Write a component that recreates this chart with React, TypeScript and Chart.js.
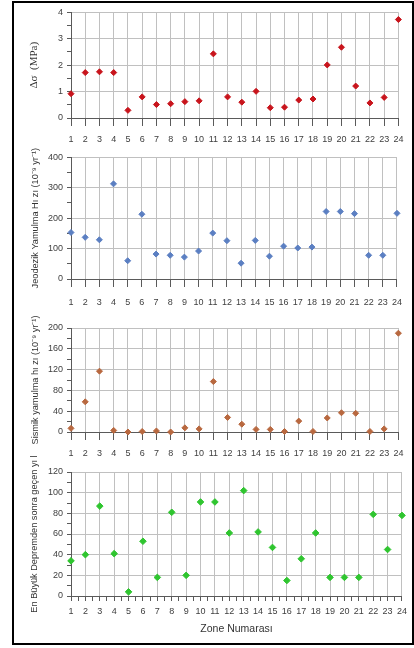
import React, { useEffect, useRef } from 'react';
import { Chart, registerables } from 'chart.js';
Chart.register(...registerables);

// ---- data ----
const zones = [1, 2, 3, 4, 5, 6, 7, 8, 9, 10, 11, 12, 13, 14, 15, 16, 17, 18, 19, 20, 21, 22, 23, 24];
const stressDropMPa = [0.92, 1.72, 1.75, 1.72, 0.29, 0.8, 0.51, 0.54, 0.62, 0.65, 2.43, 0.8, 0.6, 1.01, 0.39, 0.41, 0.68, 0.72, 2.01, 2.68, 1.21, 0.57, 0.78, 3.73];
const geodeticStrainRate = [153, 137, 129, 313, 60, 213, 82, 78, 72, 92, 151, 126, 52, 127, 75, 108, 102, 105, 222, 222, 215, 78, 78, 216];
const seismicStrainRate = [7, 58, 117, 3, 0, 1, 2, 0, 8, 6, 97, 28, 15, 5, 5, 1, 21, 1, 27, 37, 36, 1, 6, 190];
const yearsSinceLargest = [34, 40, 87, 41, 4, 53, 18, 81, 20, 91, 91, 61, 102, 62, 47, 15, 36, 61, 18, 18, 18, 79, 45, 78];

const stressTicks = [0, 1, 2, 3, 4];
const geodeticTicks = [0, 100, 200, 300, 400];
const seismicTicks = [0, 40, 80, 120, 160, 200];
const yearsTicks = [0, 20, 40, 60, 80, 100, 120];

const xAxisTitle = 'Zone Numarası';

const SANS = "'Liberation Sans', Arial, Helvetica, sans-serif";
const SERIF = "'Liberation Serif', 'Times New Roman', serif";
const GRID = '#c0c0c0';
const AXIS = '#5a5a5a';
const TEXT = '#404040';

type Spec = {
  values: number[];
  ticks: number[];
  color: string;
  title: string;
  titleFamily: string;
  titleSize: number;
  titlePad: number;
  top: number;
  height: number;
  padTop: number;
  xHeight: number;
  xTick: number;
  xPad: number;
  xMinor: boolean;
  xTitle?: string;
  radius: number;
};

const near = (v: number, step: number) => Math.abs(v / step - Math.round(v / step)) < 1e-6;

function Panel({ spec }: { spec: Spec }) {
  const ref = useRef<HTMLCanvasElement>(null);
  useEffect(() => {
    const canvas = ref.current!;
    const yMax = spec.ticks[spec.ticks.length - 1];
    const yMajor = spec.ticks[1] - spec.ticks[0];
    const chart = new Chart(canvas, {
      type: 'scatter',
      data: {
        datasets: [
          {
            data: zones.map((z, i) => ({ x: z, y: spec.values[i] })),
            pointStyle: 'rectRot',
            pointRadius: spec.radius,
            backgroundColor: spec.color,
            borderColor: spec.color,
            borderWidth: 1,
            clip: false as any,
          },
        ],
      },
      options: {
        responsive: false,
        animation: false,
        events: [],
        layout: { padding: { top: spec.padTop, right: 10, bottom: 0, left: 0 } },
        plugins: { legend: { display: false }, tooltip: { enabled: false } },
        scales: {
          x: {
            type: 'linear',
            min: 1,
            max: 24,
            afterFit: (s: any) => {
              s.height = spec.xHeight;
            },
            ticks: {
              stepSize: spec.xMinor ? 0.5 : 1,
              autoSkip: false,
              maxRotation: 0,
              minRotation: 0,
              padding: spec.xPad,
              color: TEXT,
              font: { family: SANS, size: 9 },
              callback: (v: any) => (near(Number(v), 1) ? String(Math.round(Number(v))) : ''),
            },
            grid: {
              color: (c: any) => (near(c.tick.value, 1) ? GRID : 'rgba(0,0,0,0)'),
              tickColor: AXIS,
              tickLength: spec.xTick,
              lineWidth: 1,
            },
            border: { display: true, color: AXIS, width: 1 },
            title: spec.xTitle
              ? {
                  display: true,
                  text: spec.xTitle,
                  color: '#333',
                  font: { family: SANS, size: 10.5 },
                  padding: { top: 0, bottom: 4.7 },
                }
              : { display: false },
          },
          y: {
            type: 'linear',
            min: 0,
            max: yMax,
            afterFit: (s: any) => {
              s.width = 57;
            },
            ticks: {
              stepSize: yMajor / 2,
              autoSkip: false,
              padding: 4,
              color: TEXT,
              font: { family: SANS, size: 9 },
              callback: (v: any) => (near(Number(v), yMajor) ? String(Math.round(Number(v))) : ''),
            },
            grid: {
              color: (c: any) => (near(c.tick.value, yMajor) ? GRID : 'rgba(0,0,0,0)'),
              tickColor: AXIS,
              tickLength: 4,
              lineWidth: 1,
            },
            border: { display: true, color: AXIS, width: 1 },
            title: {
              display: true,
              text: spec.title,
              color: '#333',
              font: { family: spec.titleFamily, size: spec.titleSize },
              padding: { top: spec.titlePad, bottom: 0 },
            },
          },
        },
      } as any,
    });
    return () => chart.destroy();
  }, [spec]);
  return (
    <canvas
      ref={ref}
      width={398}
      height={spec.height}
      style={{ position: 'absolute', left: 14, top: spec.top, width: 398, height: spec.height }}
    />
  );
}

const specs: Spec[] = [
  {
    values: stressDropMPa,
    ticks: stressTicks,
    color: '#c8141c',
    title: 'Δσ  (MPa)',
    titleFamily: SERIF,
    titleSize: 11,
    titlePad: 13.4,
    top: 3,
    height: 145,
    padTop: 8,
    xHeight: 30,
    xTick: 8,
    xPad: 8.6,
    xMinor: false,
    radius: 3,
  },
  {
    values: geodeticStrainRate,
    ticks: geodeticTicks,
    color: '#5b7fc2',
    title: 'Jeodezik Yamulma Hı zı (10⁻⁹ yr⁻¹)',
    titleFamily: SANS,
    titleSize: 9.2,
    titlePad: 15.5,
    top: 148,
    height: 162,
    padTop: 8,
    xHeight: 31,
    xTick: 8,
    xPad: 10,
    xMinor: false,
    radius: 3,
  },
  {
    values: seismicStrainRate,
    ticks: seismicTicks,
    color: '#b8683f',
    title: 'Sismik yamulma hı zı (10⁻⁹ yr⁻¹)',
    titleFamily: SANS,
    titleSize: 9.2,
    titlePad: 15.5,
    top: 310,
    height: 152,
    padTop: 18,
    xHeight: 30,
    xTick: 8,
    xPad: 8.6,
    xMinor: false,
    radius: 3,
  },
  {
    values: yearsSinceLargest,
    ticks: yearsTicks,
    color: '#2fc52f',
    title: 'En Büyük Depremden sonra geçen yı l',
    titleFamily: SANS,
    titleSize: 9.2,
    titlePad: 14.5,
    top: 440,
    height: 200,
    padTop: 32,
    xHeight: 44,
    xTick: 5,
    xPad: 5,
    xMinor: true,
    xTitle: xAxisTitle,
    radius: 3.3,
  },
];

export default function App() {
  return (
    <div>
      <div
        style={{
          position: 'absolute',
          left: 12,
          top: 1,
          width: 402,
          height: 644,
          boxSizing: 'border-box',
          border: '2px solid #000',
          background: '#fff',
        }}
      />
      {specs.map((s, i) => (
        <Panel key={i} spec={s} />
      ))}
    </div>
  );
}
